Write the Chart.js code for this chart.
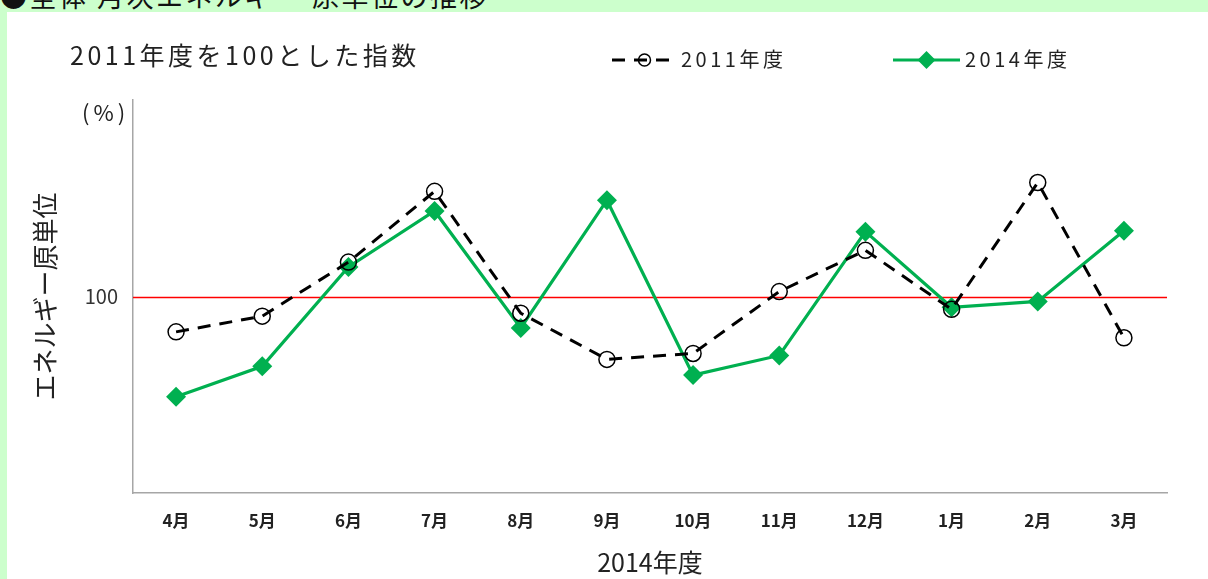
<!DOCTYPE html>
<html lang="ja">
<head>
<meta charset="utf-8">
<title>月次エネルギー原単位の推移</title>
<script src="https://cdn.jsdelivr.net/npm/chart.js@4"></script>
<style>
  html, body { margin: 0; padding: 0; }
  body {
    width: 1208px; height: 579px; position: relative; overflow: hidden;
    background: #ccffcc;
    font-family: "Noto Sans CJK JP", sans-serif;
  }
  #head { position: absolute; left: 0; top: -18px; font-size: 27px; line-height: 27px; letter-spacing: 2.5px; color: #111; white-space: nowrap; }
  #panel { position: absolute; left: 7px; top: 12px; right: 0; bottom: 0; background: #fff; }
  #chart { position: absolute; left: 0; top: 0; }
  .note { position: absolute; color: #222; white-space: nowrap; }
  #sub { left: 70px; top: 39px; font-size: 25px; line-height: 30px; letter-spacing: 3.5px; }
  #unit { left: 82px; top: 99px; font-size: 22px; line-height: 24px; letter-spacing: 4px; }
</style>
</head>
<body>
<div id="head">●全体 月次エネルギー 原単位の推移</div>
<div id="panel"></div>
<canvas id="chart" width="1208" height="579"></canvas>
<div class="note" id="sub">2011年度を100とした指数</div>
<div class="note" id="unit">(%)</div>
<script>
// 2014年度の月別エネルギー原単位（2011年度=100の指数）
const months = ['4月', '5月', '6月', '7月', '8月', '9月', '10月', '11月', '12月', '1月', '2月', '3月'];
const index2011 = [96.4, 98.0, 103.5, 110.7, 98.3, 93.6, 94.2, 100.5, 104.7, 98.7, 111.6, 95.8];
const index2014 = [89.8, 92.9, 103.0, 108.7, 96.8, 109.8, 92.0, 94.0, 106.6, 98.9, 99.5, 106.7];
const seriesNames = ['2011年度', '2014年度'];
const yTicks = [100];
const baseValue = 100;

const fam = '"Noto Sans CJK JP", sans-serif';
const axisGray = '#a6a6a6';

// red reference line at 100
const baseLine = {
  id: 'baseLine',
  beforeDatasetsDraw(chart) {
    const { ctx, chartArea, scales } = chart;
    const py = Math.round(scales.y.getPixelForValue(baseValue)) + 0.5;
    ctx.save();
    ctx.strokeStyle = '#ff0000';
    ctx.lineWidth = 1.5;
    ctx.beginPath();
    ctx.moveTo(chartArea.left, py);
    ctx.lineTo(chartArea.right, py);
    ctx.stroke();
    ctx.restore();
  }
};

// excel style legend (line + marker) in the header row
const legendSpots = [
  { x0: 612, x1: 677, y: 60, r: 6, tx: 681 },
  { x0: 893, x1: 960, y: 60, r: 9, tx: 965 }
];
const headerLegend = {
  id: 'headerLegend',
  afterDraw(chart) {
    const ctx = chart.ctx;
    ctx.save();
    legendSpots.forEach((s, i) => {
      const ds = chart.data.datasets[i];
      ctx.strokeStyle = ds.borderColor;
      ctx.lineWidth = ds.borderWidth;
      ctx.setLineDash(ds.borderDash || []);
      ctx.beginPath();
      ctx.moveTo(s.x0, s.y);
      ctx.lineTo(s.x1, s.y);
      ctx.stroke();
      ctx.setLineDash([]);
      ctx.fillStyle = ds.pointBackgroundColor;
      ctx.strokeStyle = ds.pointBorderColor;
      ctx.lineWidth = ds.pointBorderWidth;
      Chart.helpers.drawPoint(ctx, { pointStyle: ds.pointStyle, radius: s.r, borderWidth: ds.pointBorderWidth, rotation: 0 }, (s.x0 + s.x1) / 2, s.y);
      ctx.fillStyle = '#222';
      ctx.font = '20px ' + fam;
      ctx.letterSpacing = '3.5px';
      ctx.textBaseline = 'middle';
      ctx.fillText(ds.label, s.tx, s.y - 1);
      ctx.letterSpacing = '0px';
    });
    ctx.restore();
  }
};

new Chart(document.getElementById('chart'), {
  type: 'line',
  data: {
    labels: months,
    datasets: [
      {
        label: seriesNames[0],
        data: index2011,
        borderColor: '#000',
        borderWidth: 3,
        borderDash: [13, 9],
        pointStyle: 'circle',
        pointRadius: 8,
        pointBorderWidth: 1.5,
        pointBorderColor: '#000',
        pointBackgroundColor: 'rgba(0,0,0,0)',
        tension: 0
      },
      {
        label: seriesNames[1],
        data: index2014,
        borderColor: '#00b050',
        borderWidth: 3.2,
        pointStyle: 'rectRot',
        pointRadius: 10,
        pointBorderWidth: 0,
        pointBorderColor: '#00b050',
        pointBackgroundColor: '#00b050',
        tension: 0
      }
    ]
  },
  options: {
    responsive: false,
    animation: false,
    devicePixelRatio: 1,
    events: [],
    layout: { padding: { top: 100, right: 41, left: 0, bottom: 0 } },
    plugins: { legend: { display: false }, tooltip: { enabled: false } },
    scales: {
      x: {
        offset: true,
        grid: { display: false, drawTicks: false },
        border: { display: true, color: axisGray, width: 1.5 },
        ticks: { color: '#222', padding: 17, maxRotation: 0, autoSkip: false, font: { family: fam, size: 17, weight: 'bold' } },
        title: { display: true, text: '2014年度', color: '#222', font: { family: fam, size: 25 }, padding: { top: 0, bottom: 2 } },
        afterFit(s) { s.height = 86; }
      },
      y: {
        min: 80,
        max: 120,
        afterBuildTicks(s) { s.ticks = yTicks.map(v => ({ value: v })); },
        grid: { display: false, drawTicks: false },
        border: { display: true, color: axisGray, width: 1.5 },
        ticks: { color: '#333', padding: 15, font: { family: fam, size: 20 } },
        title: { display: true, text: 'エネルギー原単位', color: '#222', font: { family: fam, size: 26 }, padding: { top: 30, bottom: 0 } },
        afterFit(s) { s.width = 133; }
      }
    }
  },
  plugins: [baseLine, headerLegend]
});
</script>
</body>
</html>
